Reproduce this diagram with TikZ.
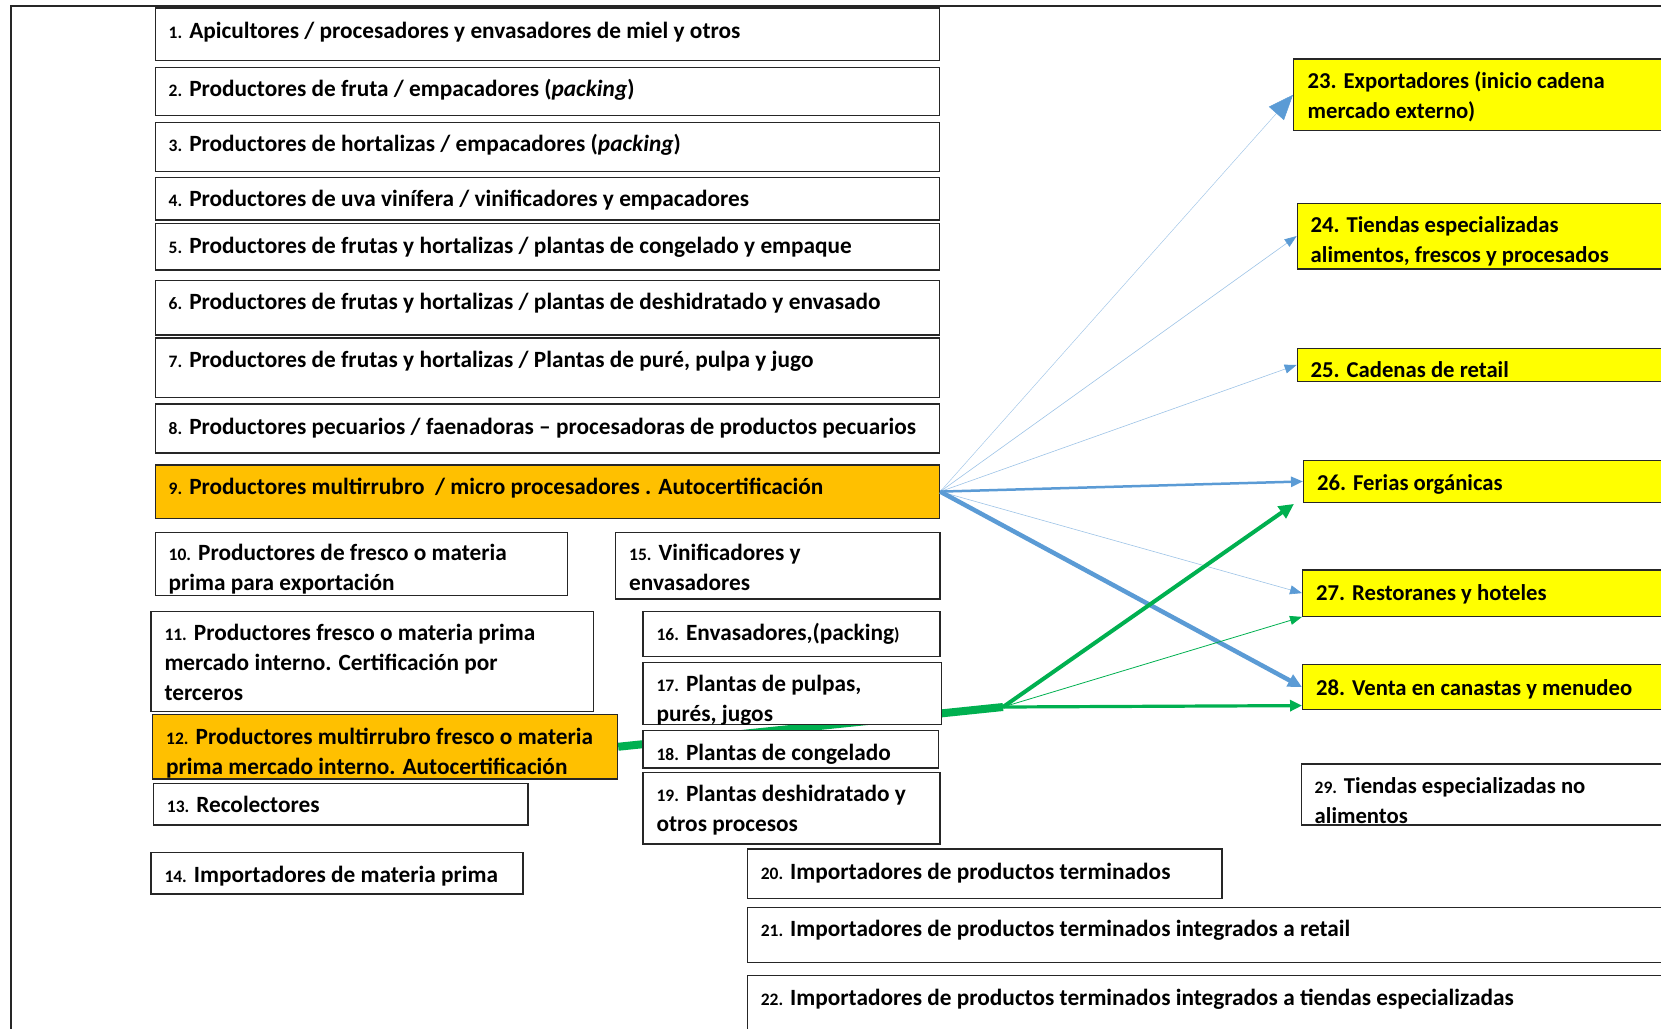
\documentclass[tikz,border=0pt]{standalone}
\usepackage{fontspec}
\setmainfont{Carlito}
\usetikzlibrary{arrows.meta,calc}
\definecolor{orangeF}{HTML}{FFC000}
\definecolor{yellowF}{HTML}{FFFF00}
\definecolor{blueA}{HTML}{5B9BD5}
\definecolor{greenA}{HTML}{00B050}
\newcommand{\nm}[1]{{\fontsize{17.5}{29.7}\selectfont #1}}
\pgfdeclarelayer{bg}
\pgfsetlayers{bg,main}
\tikzset{
  box/.style={draw=black!85, line width=1.2pt, fill=white, inner sep=0pt, anchor=north west, rectangle},
  obox/.style={box, fill=orangeF},
  ybox/.style={box, fill=yellowF},
  txt/.style={anchor=base west, inner sep=0pt, align=left, font=\fontsize{23.3}{29.7}\selectfont\bfseries},
  ytxt/.style={txt, font=\fontsize{22.7}{29.7}\selectfont\bfseries},
  bthin/.style={draw=blueA!60, line width=0.6pt, -{Triangle[length=12pt,width=9pt,color=blueA]}},
  bmid/.style={draw=blueA, line width=2.5pt, -{Triangle[length=12pt,width=10pt]}},
  bthick/.style={draw=blueA, line width=4.5pt, -{Triangle[length=14pt,width=13pt]}},
  gthin/.style={draw=greenA, line width=0.8pt, -{Triangle[length=12pt,width=9pt]}},
  gmid/.style={draw=greenA, line width=3.2pt, -{Triangle[length=12pt,width=11pt]}},
  gthick/.style={draw=greenA, line width=4pt, -{Triangle[length=15pt,width=14pt]}},
}
\begin{document}
\begin{tikzpicture}[x=1pt,y=-1pt]
\useasboundingbox (0,0) rectangle (1661,1028);
\clip (0,0) rectangle (1661,1028);
% frame
\draw[line width=2pt, black!85] (11,1030) -- (11,6) -- (1665,6);
% left column
\node[box, minimum width=784.5pt, minimum height=52.7pt] (b1) at (154.5,7.3) {};
\node[box, minimum width=784.5pt, minimum height=48.3pt] (b2) at (154.5,66.7) {};
\node[box, minimum width=784.5pt, minimum height=49.3pt] (b3) at (154.5,121.7) {};
\node[box, minimum width=784.5pt, minimum height=42.6pt] (b4) at (154.5,176.7) {};
\node[box, minimum width=784.5pt, minimum height=46.6pt] (b5) at (154.5,222.7) {};
\node[box, minimum width=784.5pt, minimum height=54.3pt] (b6) at (154.5,280) {};
\node[box, minimum width=784.5pt, minimum height=59.4pt] (b7) at (154.5,337.3) {};
\node[box, minimum width=784.5pt, minimum height=49pt] (b8) at (154.5,403.3) {};
\node[obox, minimum width=784.5pt, minimum height=53.4pt] (b9) at (154.5,464.3) {};
\node[box, minimum width=412.2pt, minimum height=63.3pt] (b10) at (154.5,531.7) {};
\node[box, minimum width=324.4pt, minimum height=66.6pt] (b15) at (615,531.7) {};
\node[box, minimum width=442.4pt, minimum height=100.3pt] (b11) at (150.3,610.7) {};
\node[box, minimum width=297pt, minimum height=45pt] (b16) at (642.4,610.7) {};
\node[box, minimum width=298.8pt, minimum height=62.3pt] (b17) at (642.4,661.7) {};
\node[obox, minimum width=465pt, minimum height=64.3pt] (b12) at (152,714) {};
\node[box, minimum width=295.8pt, minimum height=37.3pt] (b18) at (642.4,730) {};
\node[box, minimum width=374.6pt, minimum height=41.6pt] (b13) at (152.7,782.7) {};
\node[box, minimum width=297pt, minimum height=71.6pt] (b19) at (642.4,771.7) {};
\node[box, minimum width=372.1pt, minimum height=41.6pt] (b14) at (150.3,851.7) {};
\node[box, minimum width=474.8pt, minimum height=49.4pt] (b20) at (746.6,848.3) {};
\node[box, minimum width=953.4pt, minimum height=55pt] (b21) at (746.6,906.7) {};
\node[box, minimum width=953.4pt, minimum height=85pt] (b22) at (746.6,975) {};
% right column
\node[ybox, minimum width=407pt, minimum height=71.7pt] (b23) at (1293,58.3) {};
\node[ybox, minimum width=403.4pt, minimum height=65.6pt] (b24) at (1296.6,202.7) {};
\node[ybox, minimum width=403.4pt, minimum height=33.3pt] (b25) at (1296.6,347.7) {};
\node[ybox, minimum width=397pt, minimum height=41.7pt] (b26) at (1303,460) {};
\node[ybox, minimum width=398pt, minimum height=46.4pt] (b27) at (1302,569.3) {};
\node[ybox, minimum width=398pt, minimum height=45pt] (b28) at (1302,664) {};
\node[box, minimum width=399.5pt, minimum height=61pt] (b29) at (1300.5,763.3) {};
% texts (base anchor = baseline of last line)
\node[txt] (t1) at (168.5,38) {\nm{1.} Apicultores / procesadores y envasadores de miel y otros};
\node[txt] (t2) at (168.5,96) {\nm{2.} Productores de fruta / empacadores (\textit{packing})};
\node[txt] (t3) at (168.5,151) {\nm{3.} Productores de hortalizas / empacadores (\textit{packing})};
\node[txt] (t4) at (168.5,206) {\nm{4.} Productores de uva vinífera / vinificadores y empacadores};
\node[txt] (t5) at (168.5,253) {\nm{5.} Productores de frutas y hortalizas / plantas de congelado y empaque};
\node[txt] (t6) at (168.5,309) {\nm{6.} Productores de frutas y hortalizas / plantas de deshidratado y envasado};
\node[txt] (t7) at (168.5,367) {\nm{7.} Productores de frutas y hortalizas / Plantas de puré, pulpa y jugo};
\node[txt] (t8) at (168.5,434) {\nm{8.} Productores pecuarios / faenadoras – procesadoras de productos pecuarios};
\node[txt] (t9) at (168.5,494) {\nm{9.} Productores multirrubro~ / micro procesadores . Autocertificación};
\node[txt] (t10) at (168.5,590) {\nm{10.} Productores de fresco o materia\\prima para exportación};
\node[txt] (t15) at (629,590) {\nm{15.} Vinificadores y\\envasadores};
\node[txt] (t11) at (164.3,700) {\nm{11.} Productores fresco o materia prima\\mercado interno. Certificación por\\terceros};
\node[txt] (t16) at (656.4,640) {\nm{16.} Envasadores,(packing\nm{)}};
\node[txt] (t17) at (656.4,721) {\nm{17.} Plantas de pulpas,\\purés, jugos};
\node[txt] (t12) at (166,774) {\nm{12.} Productores multirrubro fresco o materia\\prima mercado interno. Autocertificación};
\node[txt] (t18) at (656.4,760) {\nm{18.} Plantas de congelado};
\node[txt] (t13) at (166.7,812) {\nm{13.} Recolectores};
\node[txt] (t19) at (656.4,831) {\nm{19.} Plantas deshidratado y\\otros procesos};
\node[txt] (t14) at (164.3,882) {\nm{14.} Importadores de materia prima};
\node[txt] (t20) at (760.6,879) {\nm{20.} Importadores de productos terminados};
\node[txt] (t21) at (760.6,936) {\nm{21.} Importadores de productos terminados integrados a retail};
\node[txt] (t22) at (760.6,1005) {\nm{22.} Importadores de productos terminados integrados a tiendas especializadas};
\node[ytxt] (t23) at (1307.5,118) {23. Exportadores (inicio cadena\\mercado externo)};
\node[ytxt] (t24) at (1310.5,262) {24. Tiendas especializadas\\alimentos, frescos y procesados};
\node[ytxt] (t25) at (1310.5,377) {25. Cadenas de retail};
\node[ytxt] (t26) at (1317,490) {26. Ferias orgánicas};
\node[ytxt] (t27) at (1316,600) {27. Restoranes y hoteles};
\node[ytxt] (t28) at (1316,695) {28. Venta en canastas y menudeo};
\node[ytxt] (t29) at (1314.5,823) {\nm{29.} Tiendas especializadas no\\alimentos};
% green main line under boxes
\coordinate (gh) at (1003,707);
\begin{pgfonlayer}{bg}
\draw[greenA, line width=8pt] (b12.east) -- (gh);
\end{pgfonlayer}
% blue arrows from 9
\draw[draw=blueA!55, line width=0.5pt, -{Triangle[length=25pt,width=20pt,color=blueA]}] (b9.east) -- (b23.west);
\draw[bthin] (b9.east) -- (b24.west);
\draw[bthin] (b9.east) -- (b25.west);
\draw[bmid] (b9.east) -- (b26.west);
\draw[bthin] (b9.east) -- (b27.west);
\draw[bthick] (b9.east) -- (b28.west);
% green arrows
\coordinate (g26) at ($(b26.south west)+(-9,1)$);
\draw[gthick] (gh) -- (g26);
\draw[gthin] (gh) -- (b27.south west);
\draw[gmid] (gh) -- ($(b28.west)!0.8!(b28.south west)$);
\end{tikzpicture}
\end{document}
